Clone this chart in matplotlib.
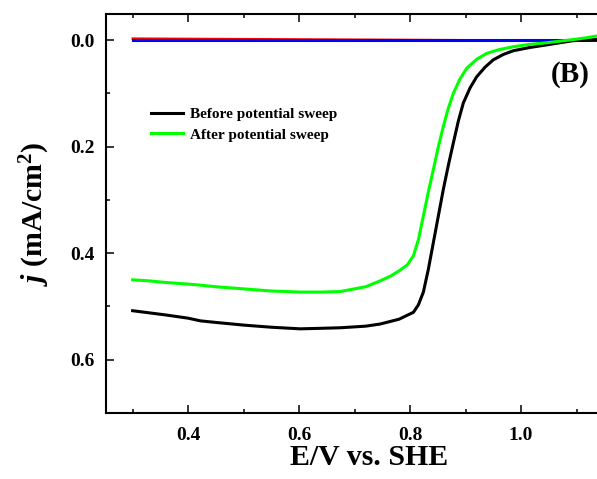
import matplotlib
matplotlib.use("Agg")
import matplotlib.pyplot as plt

plt.rcParams["font.family"] = "Liberation Serif"
plt.rcParams["font.weight"] = "bold"
plt.rcParams["mathtext.fontset"] = "custom"
plt.rcParams["mathtext.rm"] = "Liberation Serif:bold"
plt.rcParams["mathtext.it"] = "Liberation Serif:bold:italic"
plt.rcParams["mathtext.bf"] = "Liberation Serif:bold"

# Potential (V vs. SHE) and current density (mA/cm2)
before_E = [0.300, 0.330, 0.360, 0.400, 0.422, 0.450, 0.500, 0.550, 0.602, 0.640,
            0.674, 0.720, 0.746, 0.780, 0.806, 0.815, 0.824, 0.833, 0.842, 0.851,
            0.860, 0.869, 0.878, 0.887, 0.896, 0.908, 0.920, 0.935, 0.950, 0.968,
            0.986, 1.015, 1.046, 1.070, 1.094, 1.120, 1.150]
before_j = [0.508, 0.512, 0.516, 0.522, 0.527, 0.530, 0.535, 0.539, 0.542, 0.541,
            0.540, 0.537, 0.533, 0.524, 0.511, 0.497, 0.473, 0.430, 0.380, 0.330,
            0.280, 0.235, 0.193, 0.152, 0.118, 0.090, 0.069, 0.051, 0.037, 0.027,
            0.020, 0.014, 0.009, 0.005, 0.001, 0.000, -0.002]

after_E = [0.300, 0.330, 0.360, 0.400, 0.422, 0.450, 0.500, 0.550, 0.602, 0.640,
           0.674, 0.720, 0.746, 0.765, 0.782, 0.795, 0.806, 0.815, 0.824, 0.833,
           0.842, 0.851, 0.860, 0.869, 0.878, 0.890, 0.902, 0.920, 0.938, 0.960,
           0.986, 1.015, 1.046, 1.070, 1.094, 1.115, 1.136, 1.150]
after_j = [0.450, 0.452, 0.455, 0.458, 0.460, 0.463, 0.467, 0.471, 0.473, 0.473,
           0.472, 0.463, 0.452, 0.443, 0.432, 0.422, 0.405, 0.375, 0.330, 0.285,
           0.243, 0.200, 0.162, 0.128, 0.100, 0.073, 0.053, 0.036, 0.025, 0.018,
           0.0125, 0.008, 0.005, 0.002, -0.001, -0.004, -0.0075, -0.010]

ring_E = [0.300, 0.400, 0.500, 0.600, 0.700, 0.800, 0.900, 1.000, 1.100, 1.150]
ring_red_j = [-0.003, -0.0025, -0.002, -0.0015, -0.001, -0.0005, 0.0, 0.0, 0.0, 0.0]
ring_blue_j = [0.0, 0.0, 0.0, 0.0, 0.0, 0.0, 0.0, 0.0, 0.0, 0.0]

x_major = [0.4, 0.6, 0.8, 1.0]
x_minor = [0.3, 0.5, 0.7, 0.9, 1.1]
y_major = [0.0, 0.2, 0.4, 0.6]
y_minor = [0.1, 0.3, 0.5]

fig = plt.figure(figsize=(5.97, 4.79), dpi=100)
# the original frame runs past the right edge of the picture (to about E = 1.2)
ax = fig.add_axes([106 / 597, 1 - 413 / 479, (632 - 106) / 597, (413 - 14) / 479])

ax.plot(ring_E, ring_red_j, color="red", lw=1.6)
ax.plot(ring_E, ring_blue_j, color="blue", lw=2.2)
l1, = ax.plot(before_E, before_j, color="black", lw=2.2, label="Before potential sweep")
l2, = ax.plot(after_E, after_j, color="#00ff00", lw=2.2, label="After potential sweep")

ax.set_xlim(0.252, 1.2)
ax.set_ylim(0.70, -0.049)

ax.set_xticks(x_major)
ax.set_xticks(x_minor, minor=True)
ax.set_yticks(y_major)
ax.set_yticks(y_minor, minor=True)
ax.set_xticklabels([f"{v:.1f}" for v in x_major])
ax.set_yticklabels([f"{v:.1f}" for v in y_major])
ax.tick_params(which="both", direction="in", top=True, right=True, width=1.1)
ax.tick_params(which="major", length=5.5, labelsize=14)
ax.tick_params(axis="x", which="major", pad=10)
ax.tick_params(axis="y", which="major", pad=8)
ax.tick_params(which="minor", length=2.8)
for lab in ax.get_xticklabels() + ax.get_yticklabels():
    lab.set_fontweight("bold")
for sp in ax.spines.values():
    sp.set_linewidth(1.5)

ax.set_xlabel("E/V vs. SHE", fontsize=21.5, fontweight="bold", labelpad=0)
ax.set_ylabel(r"$j$ (mA/cm$^2$)", fontsize=21.5, fontweight="bold", labelpad=13)

fig.text(590 / 597, 1 - 75 / 479, "(B)", fontsize=21,
         fontweight="bold", ha="right", va="center")

ax.legend(handles=[l1, l2], loc="upper left", bbox_to_anchor=(0.060, 0.80),
          frameon=False, prop={"size": 11, "weight": "bold"},
          handlelength=2.1, handletextpad=0.45, labelspacing=0.45)

fig.savefig("out.png", dpi=100)
